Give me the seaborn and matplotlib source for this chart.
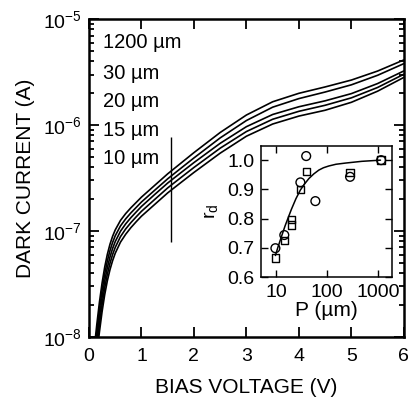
import numpy as np
import pandas as pd
import matplotlib
matplotlib.use("Agg")
import matplotlib.pyplot as plt
import seaborn as sns
from matplotlib.ticker import LogLocator, FixedLocator, FixedFormatter, NullLocator

# ---- data ----
# bias voltage grid (V)
bias_v = [0.1, 0.15, 0.2, 0.25, 0.3, 0.35, 0.4, 0.45, 0.5, 0.6, 0.7, 0.8, 0.9, 1.0,
          1.25, 1.5, 1.75, 2.0, 2.5, 3.0, 3.5, 4.0, 4.5, 5.0, 5.5, 6.0]
# log10 of dark current (A), one list per pitch
log_i_1200 = [-8.11, -7.88, -7.67, -7.49, -7.34, -7.22, -7.125, -7.05, -6.99, -6.90,
              -6.835, -6.78, -6.73, -6.68, -6.57, -6.46, -6.36, -6.26, -6.07, -5.905,
              -5.78, -5.70, -5.64, -5.575, -5.49, -5.385]
log_i_30 = [-8.18, -7.95, -7.74, -7.558, -7.405, -7.282, -7.185, -7.108, -7.045, -6.952,
            -6.885, -6.828, -6.777, -6.726, -6.616, -6.507, -6.408, -6.31, -6.121, -5.957,
            -5.831, -5.75, -5.688, -5.62, -5.53, -5.42]
log_i_20 = [-8.25, -8.02, -7.81, -7.625, -7.47, -7.345, -7.245, -7.165, -7.10, -7.002,
            -6.932, -6.873, -6.82, -6.768, -6.656, -6.547, -6.45, -6.354, -6.172, -6.015,
            -5.90, -5.827, -5.771, -5.703, -5.608, -5.489]
log_i_15 = [-8.32, -8.09, -7.88, -7.693, -7.535, -7.408, -7.305, -7.222, -7.155, -7.053,
            -6.98, -6.92, -6.866, -6.814, -6.703, -6.593, -6.496, -6.40, -6.218, -6.061,
            -5.945, -5.87, -5.813, -5.743, -5.645, -5.52]
log_i_10 = [-8.39, -8.16, -7.95, -7.76, -7.60, -7.47, -7.365, -7.28, -7.21, -7.105,
            -7.03, -6.967, -6.912, -6.86, -6.75, -6.64, -6.543, -6.447, -6.265, -6.105,
            -5.99, -5.915, -5.86, -5.785, -5.68, -5.55]
pitch_labels = ["1200 \u00b5m", "30 \u00b5m", "20 \u00b5m", "15 \u00b5m", "10 \u00b5m"]

# marker line at 1.56 V
mark_v = 1.56
mark_lo, mark_hi = 7.8e-8, 7.7e-7

# inset: r_d vs pitch P (um)
circ_p = [9.7, 14.5, 30, 39, 59, 283, 1150]
circ_rd = [0.699, 0.744, 0.924, 1.014, 0.86, 0.943, 1.0]
sq_p = [9.7, 14.5, 20, 20, 30, 39, 283, 1150]
sq_rd = [0.665, 0.725, 0.798, 0.778, 0.900, 0.962, 0.957, 1.0]
fit_p = [9.7, 11, 13, 15, 17.7, 20, 24.5, 30, 36, 44, 55, 69, 85, 108, 150, 229, 483, 1120]
fit_rd = [0.674, 0.705, 0.743, 0.775, 0.808, 0.832, 0.868, 0.898, 0.918, 0.937, 0.953,
          0.966, 0.974, 0.98, 0.986, 0.99, 0.996, 1.0]

# ---- plotting ----
sns.set_style("ticks")
plt.rcParams["font.family"] = ["Liberation Sans", "DejaVu Sans"]
plt.rcParams["mathtext.default"] = "regular"
for k in ["text.color", "axes.labelcolor", "xtick.color", "ytick.color", "axes.edgecolor"]:
    plt.rcParams[k] = "black"

fig = plt.figure(figsize=(4.1, 4.07), dpi=100)
ax = fig.add_axes([0.217, 0.172, 0.768, 0.781])

curves = [log_i_1200, log_i_30, log_i_20, log_i_15, log_i_10]
for lab, vals in zip(pitch_labels, curves):
    df = pd.DataFrame({"V": bias_v, "I": 10.0 ** np.array(vals)})
    sns.lineplot(data=df, x="V", y="I", ax=ax, color="black", lw=1.2, estimator=None)

ax.vlines(mark_v, mark_lo, mark_hi, color="black", lw=1.0)

ax.set_yscale("log")
ax.set_xlim(0, 6)
ax.set_ylim(1e-8, 1e-5)
ax.set_xticks(range(7))
ax.yaxis.set_major_locator(LogLocator(base=10, numticks=10))
ax.yaxis.set_minor_locator(LogLocator(base=10, subs=np.arange(2, 10), numticks=20))
ax.tick_params(which="both", direction="in", top=True, right=True, labelsize=14, width=1.3)
ax.tick_params(which="major", length=7)
ax.tick_params(axis="x", which="major", pad=8)
ax.tick_params(axis="y", which="major", pad=5)
ax.tick_params(which="minor", length=3.5)
for s in ax.spines.values():
    s.set_linewidth(1.8)
ax.set_xlabel("BIAS VOLTAGE (V)", fontsize=15, labelpad=9)
ax.set_ylabel("DARK CURRENT (A)", fontsize=15, labelpad=6)

label_y = [0.925, 0.830, 0.742, 0.651, 0.560]
for lab, yy in zip(pitch_labels, label_y):
    ax.text(0.045, yy, lab, transform=ax.transAxes, fontsize=14.5, va="center", ha="left")

# inset
ins = fig.add_axes([0.637, 0.319, 0.319, 0.322])
ins.set_xscale("log")
sns.lineplot(x=fit_p, y=fit_rd, ax=ins, color="black", lw=1.1, estimator=None)
sns.scatterplot(x=circ_p, y=circ_rd, ax=ins, marker="o", s=40, facecolors="none",
                edgecolor="black", linewidth=1.0)
sns.scatterplot(x=sq_p, y=sq_rd, ax=ins, marker="s", s=28, facecolors="none",
                edgecolor="black", linewidth=1.0)
ins.set_xlim(5.1, 1880)
ins.set_ylim(0.6, 1.048)
ins.xaxis.set_major_locator(FixedLocator([10, 100, 1000]))
ins.xaxis.set_major_formatter(FixedFormatter(["10", "100", "1000"]))
ins.xaxis.set_minor_locator(NullLocator())
ins.set_yticks([0.6, 0.7, 0.8, 0.9, 1.0])
ins.set_yticklabels(["0.6", "0.7", "0.8", "0.9", "1.0"])
ins.tick_params(which="both", direction="in", top=True, right=True, labelsize=14,
                length=5, width=1.0, pad=5)
for s in ins.spines.values():
    s.set_linewidth(1.1)
ins.set_xlabel("P (\u00b5m)", fontsize=15, labelpad=0)
ins.set_ylabel("r$_{d}$", fontsize=14, labelpad=5)

fig.savefig("out.png", dpi=100)
